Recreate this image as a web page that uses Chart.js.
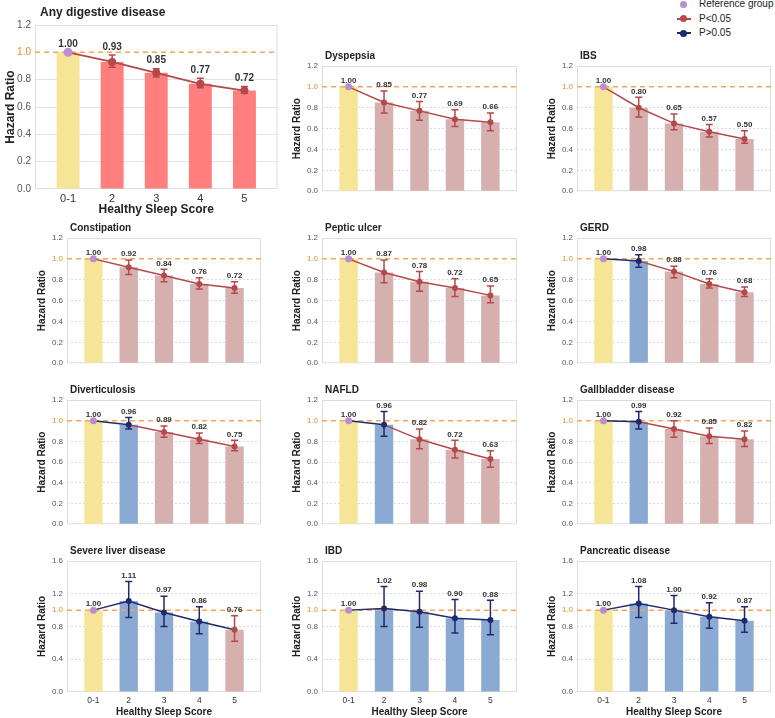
<!DOCTYPE html>
<html>
<head>
<meta charset="utf-8">
<title>Healthy sleep score and digestive diseases</title>
<script src="https://cdn.jsdelivr.net/npm/chart.js@4.4.1/dist/chart.umd.min.js"></script>
<style>
  html, body { margin: 0; padding: 0; background: #fff; overflow: hidden; }
  body { width: 775px; height: 718px; position: relative; font-family: "Liberation Sans", Arial, sans-serif; }
  canvas { position: absolute; }
  .legend { position: absolute; left: 671px; top: -3px; font-size: 10px; color: #222; }
  .legend div { position: relative; height: 14.5px; line-height: 14px; padding-left: 28px; white-space: nowrap; }
  .mark-line { position: absolute; left: 6px; top: 6px; width: 14px; height: 2px; }
  .mark-dot { position: absolute; left: 9px; top: 3.5px; width: 7px; height: 7px; border-radius: 50%; }
</style>
</head>
<body>
<div class="legend">
  <div><span class="mark-dot" style="background:#B98FD0"></span>Reference group</div>
  <div><span class="mark-line" style="background:#B5494A"></span><span class="mark-dot" style="background:#B5494A"></span>P&lt;0.05</div>
  <div><span class="mark-line" style="background:#1F2A6B"></span><span class="mark-dot" style="background:#1F2A6B"></span>P&gt;0.05</div>
</div>
<script>
"use strict";
// Healthy sleep score groups
const categories = ['0-1', '2', '3', '4', '5'];

const diseases = ['Any digestive disease', 'Dyspepsia', 'IBS', 'Constipation', 'Peptic ulcer', 'GERD',
    'Diverticulosis', 'NAFLD', 'Gallbladder disease', 'Severe liver disease', 'IBD', 'Pancreatic disease'];

const hazardRatio = [
    [1.00, 0.93, 0.85, 0.77, 0.72],
    [1.00, 0.85, 0.77, 0.69, 0.66],
    [1.00, 0.80, 0.65, 0.57, 0.50],
    [1.00, 0.92, 0.84, 0.76, 0.72],
    [1.00, 0.87, 0.78, 0.72, 0.65],
    [1.00, 0.98, 0.88, 0.76, 0.68],
    [1.00, 0.96, 0.89, 0.82, 0.75],
    [1.00, 0.96, 0.82, 0.72, 0.63],
    [1.00, 0.99, 0.92, 0.85, 0.82],
    [1.00, 1.11, 0.97, 0.86, 0.76],
    [1.00, 1.02, 0.98, 0.90, 0.88],
    [1.00, 1.08, 1.00, 0.92, 0.87]
];

const ciLower = [
    [1.00, 0.89, 0.82, 0.74, 0.70],
    [1.00, 0.75, 0.68, 0.62, 0.58],
    [1.00, 0.71, 0.59, 0.52, 0.46],
    [1.00, 0.85, 0.78, 0.71, 0.67],
    [1.00, 0.77, 0.69, 0.64, 0.58],
    [1.00, 0.92, 0.82, 0.72, 0.64],
    [1.00, 0.92, 0.84, 0.78, 0.71],
    [1.00, 0.85, 0.73, 0.64, 0.55],
    [1.00, 0.92, 0.84, 0.78, 0.75],
    [1.00, 0.91, 0.80, 0.71, 0.62],
    [1.00, 0.80, 0.79, 0.72, 0.70],
    [1.00, 0.91, 0.84, 0.78, 0.73]
];

const ciUpper = [
    [1.00, 0.98, 0.88, 0.81, 0.75],
    [1.00, 0.96, 0.86, 0.78, 0.75],
    [1.00, 0.90, 0.74, 0.64, 0.58],
    [1.00, 0.99, 0.90, 0.82, 0.78],
    [1.00, 0.99, 0.88, 0.81, 0.74],
    [1.00, 1.04, 0.93, 0.81, 0.73],
    [1.00, 1.03, 0.95, 0.88, 0.81],
    [1.00, 1.09, 0.92, 0.81, 0.71],
    [1.00, 1.09, 1.00, 0.93, 0.90],
    [1.00, 1.35, 1.17, 1.04, 0.93],
    [1.00, 1.29, 1.23, 1.13, 1.12],
    [1.00, 1.29, 1.18, 1.09, 1.04]
];

// groups 2..5: 1 = P<0.05, 0 = P>0.05 (group 0-1 is the reference)
const significant = [
    [1, 1, 1, 1], [1, 1, 1, 1], [1, 1, 1, 1], [1, 1, 1, 1], [1, 1, 1, 1], [0, 1, 1, 1],
    [0, 1, 1, 1], [0, 1, 1, 1], [0, 1, 1, 1], [0, 0, 0, 1], [0, 0, 0, 0], [0, 0, 0, 0]
];

const yTicksTop = [0, 0.2, 0.4, 0.6, 0.8, 1.0, 1.2];
const yTicksBottom = [0, 0.4, 0.8, 1.0, 1.2, 1.6];

// colours
const RED = '#B5494A';
const NAVY = '#1F2A6B';
const PURPLE = '#B98FD0';
const ORANGE = '#F5A65B';
const FONT = '"Liberation Sans", Arial, sans-serif';

// plot areas of the grid
const colL = [67, 322, 577], colR = [264, 520, 774];
const rowT = [66, 238, 400, 561], rowB = [198, 370, 531, 692];

function plotBox(i) {
    if (i === 0) return { L: 35, T: 25, R: 281, B: 189 };
    const r = Math.floor(i / 3), c = i % 3;
    return { L: colL[c], T: rowT[r], R: colR[c], B: rowB[r] };
}

diseases.forEach((name, i) => {
    const big = i === 0;
    const bottomRow = i >= 9;
    const showX = big || bottomRow;
    const hr = hazardRatio[i], lo = ciLower[i], hi = ciUpper[i], sig = significant[i];
    const yTicks = bottomRow ? yTicksBottom : yTicksTop;
    const yMax = yTicks[yTicks.length - 1];
    const sigCount = sig.filter(s => s).length;

    const box = plotBox(i);
    const yw = big ? 34 : 36;
    const padTop = 18, padRight = 1;
    const xh = showX ? (big ? 30 : 26) : 0;
    const padBottom = showX ? 0 : 2;
    const w = box.R - box.L + yw + padRight;
    const h = box.B - box.T + padTop + xh + padBottom;

    const canvas = document.createElement('canvas');
    canvas.width = w; canvas.height = h;
    canvas.style.width = w + 'px'; canvas.style.height = h + 'px';
    canvas.style.left = (box.L - yw) + 'px';
    canvas.style.top = (box.T - padTop) + 'px';
    document.body.appendChild(canvas);

    const points = hr.map((v, k) => ({ x: k, y: v }));
    const markColor = k => k === 0 ? PURPLE : (sig[k - 1] ? RED : NAVY);
    const barColors = hr.map((v, k) => k === 0 ? '#F6E596' : (sig[k - 1] ? (big ? '#FF7F7F' : '#D6AFAF') : '#8BAAD3'));
    const segColor = k => (sig[k - 1] && sigCount > 1) ? RED : NAVY;

    const deco = {
        id: 'deco',
        beforeDatasetsDraw(chart) {
            const { ctx, chartArea: a } = chart;
            ctx.save();
            ctx.strokeStyle = '#DDDDDD';
            ctx.lineWidth = 1;
            ctx.strokeRect(a.left + 0.5, a.top + 0.5, a.right - a.left - 1, a.bottom - a.top - 1);
            ctx.restore();
        },
        afterDatasetDraw(chart, args) {
            if (args.index !== 0) return;
            const { ctx, chartArea: a, scales: { x, y } } = chart;
            ctx.save();
            // HR = 1 reference line
            const y1 = y.getPixelForValue(1);
            ctx.strokeStyle = ORANGE;
            ctx.lineWidth = 1.5;
            ctx.setLineDash([5, 4]);
            ctx.beginPath(); ctx.moveTo(a.left, y1); ctx.lineTo(a.right, y1); ctx.stroke();
            // error bars
            ctx.setLineDash([]);
            ctx.lineWidth = 1.5;
            const cap = 3.5;
            for (let k = 1; k < hr.length; k++) {
                const px = x.getPixelForValue(k);
                const pLo = y.getPixelForValue(lo[k]), pHi = y.getPixelForValue(hi[k]);
                ctx.strokeStyle = markColor(k);
                ctx.beginPath();
                ctx.moveTo(px, pLo); ctx.lineTo(px, pHi);
                ctx.moveTo(px - cap, pLo); ctx.lineTo(px + cap, pLo);
                ctx.moveTo(px - cap, pHi); ctx.lineTo(px + cap, pHi);
                ctx.stroke();
            }
            ctx.restore();
        },
        afterDatasetsDraw(chart) {
            const { ctx, scales: { x, y } } = chart;
            ctx.save();
            ctx.fillStyle = '#333';
            ctx.font = 'bold ' + (big ? 10 : 8) + 'px ' + FONT;
            ctx.textAlign = 'center';
            ctx.textBaseline = 'middle';
            hr.forEach((v, k) => {
                ctx.fillText(v.toFixed(2), x.getPixelForValue(k), y.getPixelForValue(hi[k]) - (big ? 8 : 6));
            });
            ctx.restore();
        },
        afterDraw(chart) {
            const { ctx, chartArea: a } = chart;
            ctx.save();
            ctx.fillStyle = '#222';
            ctx.font = 'bold ' + (big ? 12 : 10) + 'px ' + FONT;
            ctx.textAlign = 'left';
            ctx.textBaseline = 'middle';
            ctx.fillText(name, a.left + (big ? 5 : 3), a.top - (big ? 12 : 10));
            ctx.restore();
        }
    };

    new Chart(canvas, {
        type: 'bar',
        data: {
            datasets: [
                {
                    type: 'bar',
                    data: points,
                    backgroundColor: barColors,
                    borderWidth: 0,
                    barPercentage: 0.52,
                    categoryPercentage: 1,
                    order: 2
                },
                {
                    type: 'line',
                    data: points,
                    borderColor: RED,
                    borderWidth: big ? 1.8 : 1.5,
                    segment: { borderColor: ctx => segColor(ctx.p1DataIndex) },
                    pointRadius: hr.map((v, k) => k === 0 ? (big ? 4.5 : 3.5) : (big ? 4 : 3)),
                    pointBackgroundColor: hr.map((v, k) => markColor(k)),
                    pointBorderWidth: 0,
                    order: 1
                }
            ]
        },
        options: {
            responsive: false,
            animation: false,
            devicePixelRatio: 1,
            layout: { padding: { top: padTop, right: padRight, bottom: padBottom, left: 0 } },
            plugins: { legend: { display: false }, tooltip: { enabled: false } },
            scales: {
                x: {
                    type: 'linear',
                    min: -0.75,
                    max: 4.75,
                    offset: false,
                    grid: { display: false, drawTicks: false },
                    border: { display: false },
                    afterBuildTicks: s => { s.ticks = categories.map((c, k) => ({ value: k })); },
                    afterFit: s => { s.height = xh; },
                    ticks: {
                        display: showX,
                        autoSkip: false,
                        maxRotation: 0,
                        padding: big ? 3 : 4,
                        color: '#333',
                        font: { family: FONT, size: big ? 11 : 8.5 },
                        callback: v => categories[v]
                    },
                    title: {
                        display: showX,
                        text: 'Healthy Sleep Score',
                        color: '#222',
                        padding: { top: 0, bottom: big ? 2 : 0 },
                        font: { family: FONT, size: big ? 12 : 10, weight: 'bold' }
                    }
                },
                y: {
                    min: 0,
                    max: yMax,
                    afterBuildTicks: s => { s.ticks = yTicks.map(v => ({ value: v })); },
                    afterFit: s => { s.width = yw; },
                    grid: {
                        drawTicks: false,
                        lineWidth: 1,
                        color: c => (c.tick && (c.tick.value === 1 || c.tick.value === 0 || c.tick.value === yMax))
                            ? 'rgba(0,0,0,0)' : (big ? '#E4E4E4' : '#D9D9D9')
                    },
                    border: { display: false, dash: big ? [] : [2, 2] },
                    ticks: {
                        padding: 4,
                        color: c => c.tick && c.tick.value === 1 ? '#E8892F' : '#555',
                        font: { family: FONT, size: big ? 10 : 8 },
                        callback: v => v.toFixed(1)
                    },
                    title: {
                        display: true,
                        text: 'Hazard Ratio',
                        color: '#222',
                        padding: { top: big ? 2 : 5, bottom: 0 },
                        font: { family: FONT, size: big ? 12 : 10, weight: 'bold' }
                    }
                }
            }
        },
        plugins: [deco]
    });
});
</script>
</body>
</html>
